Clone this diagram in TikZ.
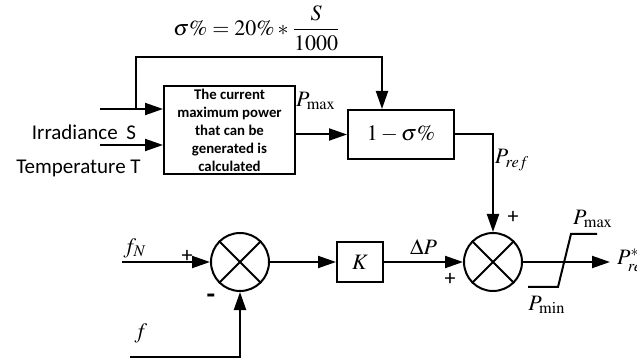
\documentclass[tikz,border=0pt]{standalone}
\usepackage{mathptmx}
\usepackage{fontspec}
\setmainfont{Liberation Serif}
\newfontfamily\calfont{Carlito}
\usepackage{tikz}
\usetikzlibrary{arrows.meta,calc}

\tikzset{
  blk/.style={draw, line width=1pt, inner sep=0.5pt},
  summ/.style={draw, circle, line width=1pt, minimum size=29pt, inner sep=0pt},
  sig/.style={-{Triangle[length=9pt,width=6pt]}, line width=1pt},
  lbl/.style={font=\fontsize{11}{13}\selectfont},
  txt/.style={font=\calfont\fontsize{10.5}{12}\selectfont},
  sgn/.style={font=\calfont\fontsize{11}{12}\selectfont, inner sep=0pt},
}

\begin{document}
\begin{tikzpicture}[x=0.5pt, y=-0.5pt]
  \useasboundingbox (0,0) rectangle (637,363);
  % blocks
  \node[blk, minimum width=65.5pt, minimum height=44pt, align=center,
        font=\calfont\bfseries\fontsize{7.4}{9}\selectfont] (calc) at (229.5,130)
        {The current\\maximum power\\that can be\\generated is\\calculated};
  \node[blk, lbl, minimum width=53pt, minimum height=24.5pt] (pct) at (401,134.5) {$1-\sigma\%$};
  \node[summ] (sum1) at (240,262) {};
  \node[blk, lbl, minimum width=23pt, minimum height=20pt] (gain) at (360,262) {$K$};
  \node[summ] (sum2) at (493,262) {};
  \foreach \s in {sum1,sum2}{
    \draw[line width=1pt] (\s.north east) -- (\s.south west) (\s.north west) -- (\s.south east);
  }
  % free ends
  \coordinate (irr) at (100,109);
  \coordinate (tmp) at (100,145);
  \coordinate (tap) at (136,109);
  \coordinate (fbk) at (382,57);
  \coordinate (fn) at (122,262);
  \coordinate (fm) at (130,357);
  \coordinate (out) at (610,262);
  % signals
  \draw[sig] (irr) -- (irr -| calc.west);
  \draw[sig] (tmp) -- (tmp -| calc.west);
  \draw[sig] (tap) |- (fbk) -- (fbk |- pct.north);
  \draw[sig] (pct.west -| calc.east) -- (pct.west);
  \draw[sig] (pct.east) -| (sum2.north);
  \draw[sig] (fn) -- (sum1.west);
  \draw[sig] (fm) -| (sum1.south);
  \draw[sig] (sum1.east) -- (gain.west);
  \draw[sig] (gain.east) -- (sum2.west) node[midway, above, lbl] {$\Delta P$};
  \draw[sig] (sum2.east) -- (out);
  % limiter
  \draw[line width=1pt] (528,287) -- (558,287) -- (571,234) -- (597,234);
  % labels
  \node[lbl] (eq) at (257,28) {$\sigma\%=20\%*\displaystyle\frac{S}{1000}$};
  \node[txt] (irrlbl) at (84,132) {Irradiance\hspace{2pt} S};
  \node[txt] (tmplbl) at (78.5,168) {Temperature T};
  \node[lbl] (pmax1) at (316,101) {$P_{\max}$};
  \node[lbl] (pref) at (512,160) {$P_{ref}$};
  \node[lbl] (fnlbl) at (135,248) {$f_N$};
  \node[lbl] (flbl) at (141,333) {$f$};
  \node[sgn] (s1) at (187,256) {+};
  \node[sgn, font=\calfont\bfseries\fontsize{14}{14}\selectfont] (s2) at (211,299) {-};
  \node[sgn] (s3) at (513,217) {+};
  \node[sgn] (s4) at (450,279) {+};
  \node[lbl] (pmax2) at (593,219) {$P_{\max}$};
  \node[lbl] (pmin) at (547,305) {$P_{\min}$};
  \node[lbl, right=0pt] (prefs) at (out) {$P^{*}_{ref}$};
\end{tikzpicture}
\end{document}
